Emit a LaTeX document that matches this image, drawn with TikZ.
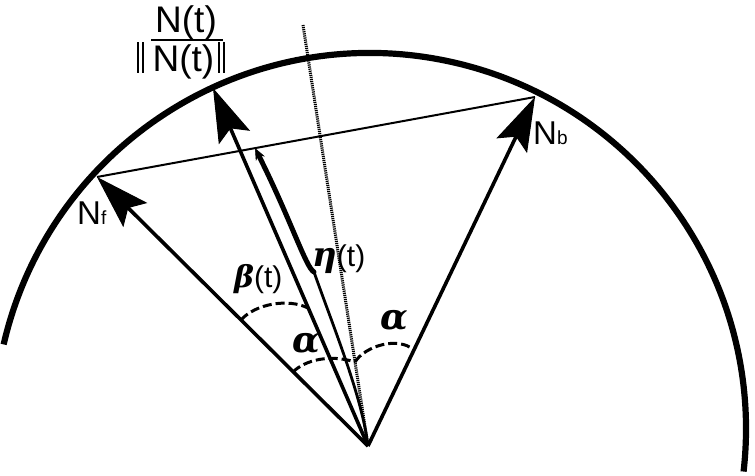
\documentclass[tikz,border=0pt]{standalone}
\usepackage{fontspec}
\setmainfont{Liberation Sans}
\newfontfamily\grk{DejaVu Serif}
\usetikzlibrary{arrows.meta}
\newcommand\dbar{\rule[-1pt]{2pt}{31pt}\hspace{2.4pt}\rule[-1pt]{2pt}{31pt}}
\begin{document}
\begin{tikzpicture}[x=1pt,y=1pt,
  vec/.style={line width=3.6pt,-{Stealth[length=54pt,width=34pt,inset=10pt,line width=1pt]}},
  rim/.style={line width=6.2pt},
  chord/.style={line width=2pt},
  axisline/.style={line width=3pt,dash pattern=on 1.2pt off 0.9pt},
  angarc/.style={line width=3pt,dash pattern=on 9pt off 4pt},
  etaarrow/.style={line width=5pt,line cap=round,-{Stealth[length=12pt,width=10pt,line width=0.5pt]}},
  etaline/.style={line width=2.8pt},
  lab/.style={inner sep=0pt,anchor=base west,font=\fontsize{33}{38}\selectfont},
  fraclab/.style={inner sep=0pt,anchor=base west,font=\fontsize{37}{42}\selectfont},
  grklab/.style={inner sep=0pt,anchor=base west,font=\fontsize{30}{34}\selectfont}]
\useasboundingbox (0,0) rectangle (755,476);
% key points
\coordinate (O) at (368,30);
\coordinate (C) at (370,47);
\coordinate (Nf) at (97,299);
\coordinate (Nb) at (535,379);
\coordinate (Nt) at (213,388);
\coordinate (D) at (303,451);
% rim
\draw[rim] ([shift={(167:376)}]C) arc[start angle=167,end angle=-6.5,radius=376];
% chord and bisector
\draw[chord] (Nf) -- (Nb);
\draw[axisline] (D) -- (O);
% vectors
\draw[vec] (O) -- (Nf);
\draw[vec] (O) -- (Nb);
\draw[vec] (O) -- (Nt);
% eta brace
\coordinate (eTop) at (255,328);
\coordinate (eJ) at (314,204);
\draw[etaarrow] (eJ) .. controls (306,208) and (291,256) .. (eTop);
\draw[etaline] (eJ) .. controls (333,150) and (362,80) .. (O);
% angle arcs
\coordinate (b1) at (241,156);
\coordinate (b2) at (308,168);
\coordinate (a1) at (293,104);
\coordinate (a2) at (355,114);
\coordinate (a3) at (414,126);
\draw[angarc] (b1) .. controls (255,172) and (288,178) .. (b2);
\draw[angarc] (a1) .. controls (305,116) and (330,122) .. (a2);
\draw[angarc] (a2) .. controls (365,130) and (398,140) .. (a3);
% labels
\node[lab] (lNf) at (77,251) {N{\fontsize{19}{22}\selectfont f}};
\node[lab] (lNb) at (533,331) {N{\fontsize{19}{22}\selectfont b}};
\node[fraclab] (num) at (155,443) {N(t)};
\draw[line width=2pt] (151,436) -- (223,436);
\node[fraclab] (den) at (137,404) {\dbar\hspace{9pt}N(t)\hspace{4pt}\dbar};
\node[grklab] (leta) at (312,209) {{\grk\bfseries\itshape\fontsize{34}{38}\selectfont η}(t)};
\node[grklab] (lbeta) at (234,188) {{\grk\bfseries\itshape β}(t)};
\node[grklab,font=\fontsize{36}{40}\selectfont] (lal1) at (292,123) {{\grk\bfseries\itshape α}};
\node[grklab,font=\fontsize{36}{40}\selectfont] (lal2) at (380,146) {{\grk\bfseries\itshape α}};
\end{tikzpicture}
\end{document}
